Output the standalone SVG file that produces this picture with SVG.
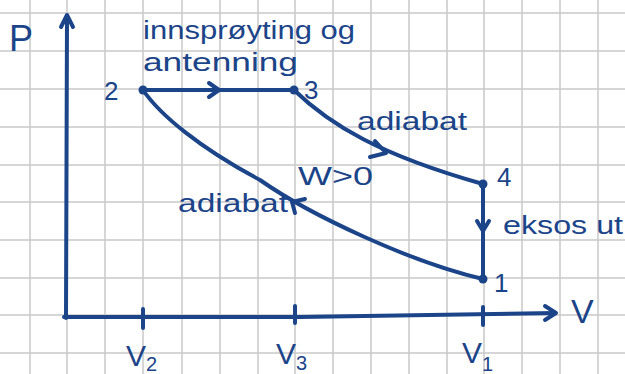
<svg xmlns="http://www.w3.org/2000/svg" width="625" height="374" viewBox="0 0 625 374">
<style>
.grid line{stroke:#c9c9c9;stroke-width:1.5}
.ink{fill:none;stroke:#1b4489;stroke-width:4;stroke-linecap:round;stroke-linejoin:round}
.dot{fill:#1b4489}
text{font-family:"Liberation Sans","DejaVu Sans",sans-serif;fill:#1b4489}
.lbl{font-size:26px}
.sub{font-size:20px}
</style>
<rect width="625" height="374" fill="#ffffff"/>
<g class="grid">
<line x1="30" y1="0" x2="30" y2="374"/><line x1="67" y1="0" x2="67" y2="374"/><line x1="105" y1="0" x2="105" y2="374"/><line x1="143" y1="0" x2="143" y2="374"/><line x1="182" y1="0" x2="182" y2="374"/><line x1="220" y1="0" x2="220" y2="374"/><line x1="258" y1="0" x2="258" y2="374"/><line x1="295" y1="0" x2="295" y2="374"/><line x1="333" y1="0" x2="333" y2="374"/><line x1="371" y1="0" x2="371" y2="374"/><line x1="409" y1="0" x2="409" y2="374"/><line x1="447" y1="0" x2="447" y2="374"/><line x1="484" y1="0" x2="484" y2="374"/><line x1="522" y1="0" x2="522" y2="374"/><line x1="560" y1="0" x2="560" y2="374"/><line x1="598" y1="0" x2="598" y2="374"/>
<line x1="0" y1="13" x2="625" y2="13"/><line x1="0" y1="51" x2="625" y2="51"/><line x1="0" y1="89" x2="625" y2="89"/><line x1="0" y1="127" x2="625" y2="127"/><line x1="0" y1="165" x2="625" y2="165"/><line x1="0" y1="202" x2="625" y2="202"/><line x1="0" y1="240" x2="625" y2="240"/><line x1="0" y1="278" x2="625" y2="278"/><line x1="0" y1="315" x2="625" y2="315"/><line x1="0" y1="353" x2="625" y2="353"/>
</g>
<g id="axes">
<path class="ink" d="M66,318 L67,17"/>
<path class="ink" d="M61,27 L67,15 L73,27"/>
<path class="ink" d="M64,317 L300,317 L555,313"/>
<path class="ink" d="M545,306 L556,313 L545,320"/>
<path class="ink" d="M143,309 L143,328"/>
<path class="ink" d="M295,306 L295,323"/>
<path class="ink" d="M483,307 L483,325"/>
<text x="9" y="51" style="font-size:36px">P</text>
<text x="571" y="323" style="font-size:34px">V</text>
<text x="126" y="366" style="font-size:30px">V<tspan class="sub" dy="5">2</tspan></text>
<text x="276" y="364" style="font-size:30px">V<tspan class="sub" dy="6">3</tspan></text>
<text x="462" y="363" style="font-size:30px">V<tspan class="sub" dy="8">1</tspan></text>
</g>
<g id="connectors">
<path id="e23" class="ink" d="M143,90 L294,90"/>
<path class="ink" d="M209,83 L219,90 L209,97"/>
<path id="e34" class="ink" d="M294,90 C330,125 380,155 483,184"/>
<path class="ink" d="M375,141 L386,153 L370,157"/>
<path id="e41" class="ink" d="M483,184 L483,279"/>
<path class="ink" d="M477,221 L483,231 L489,221"/>
<path id="e12" class="ink" d="M143,90 C160,115 200,148 260,180 C310,215 410,262 483,279"/>
<path class="ink" d="M305,199 L292,202 L295,213"/>
</g>
<g id="node2"><circle class="dot" cx="143" cy="90" r="4.5"/><text class="lbl" x="104" y="100">2</text></g>
<g id="node3"><circle class="dot" cx="294" cy="90" r="4.5"/><text class="lbl" x="304" y="99">3</text></g>
<g id="node4"><circle class="dot" cx="483" cy="184" r="4.5"/><text class="lbl" x="497" y="186">4</text></g>
<g id="node1"><circle class="dot" cx="483" cy="279" r="4.5"/><text class="lbl" x="494" y="292">1</text></g>
<g id="labels">
<text class="lbl" x="143" y="39" textLength="212" lengthAdjust="spacingAndGlyphs">innsprøyting og</text>
<text class="lbl" x="143" y="71" textLength="155" lengthAdjust="spacingAndGlyphs">antenning</text>
<text class="lbl" x="357" y="130" textLength="110" lengthAdjust="spacingAndGlyphs">adiabat</text>
<text class="lbl" x="298" y="185" textLength="75" lengthAdjust="spacingAndGlyphs">W&gt;0</text>
<text class="lbl" x="178" y="212" textLength="110" lengthAdjust="spacingAndGlyphs">adiabat</text>
<text class="lbl" x="503" y="234" textLength="120" lengthAdjust="spacingAndGlyphs">eksos ut</text>
</g>
</svg>
